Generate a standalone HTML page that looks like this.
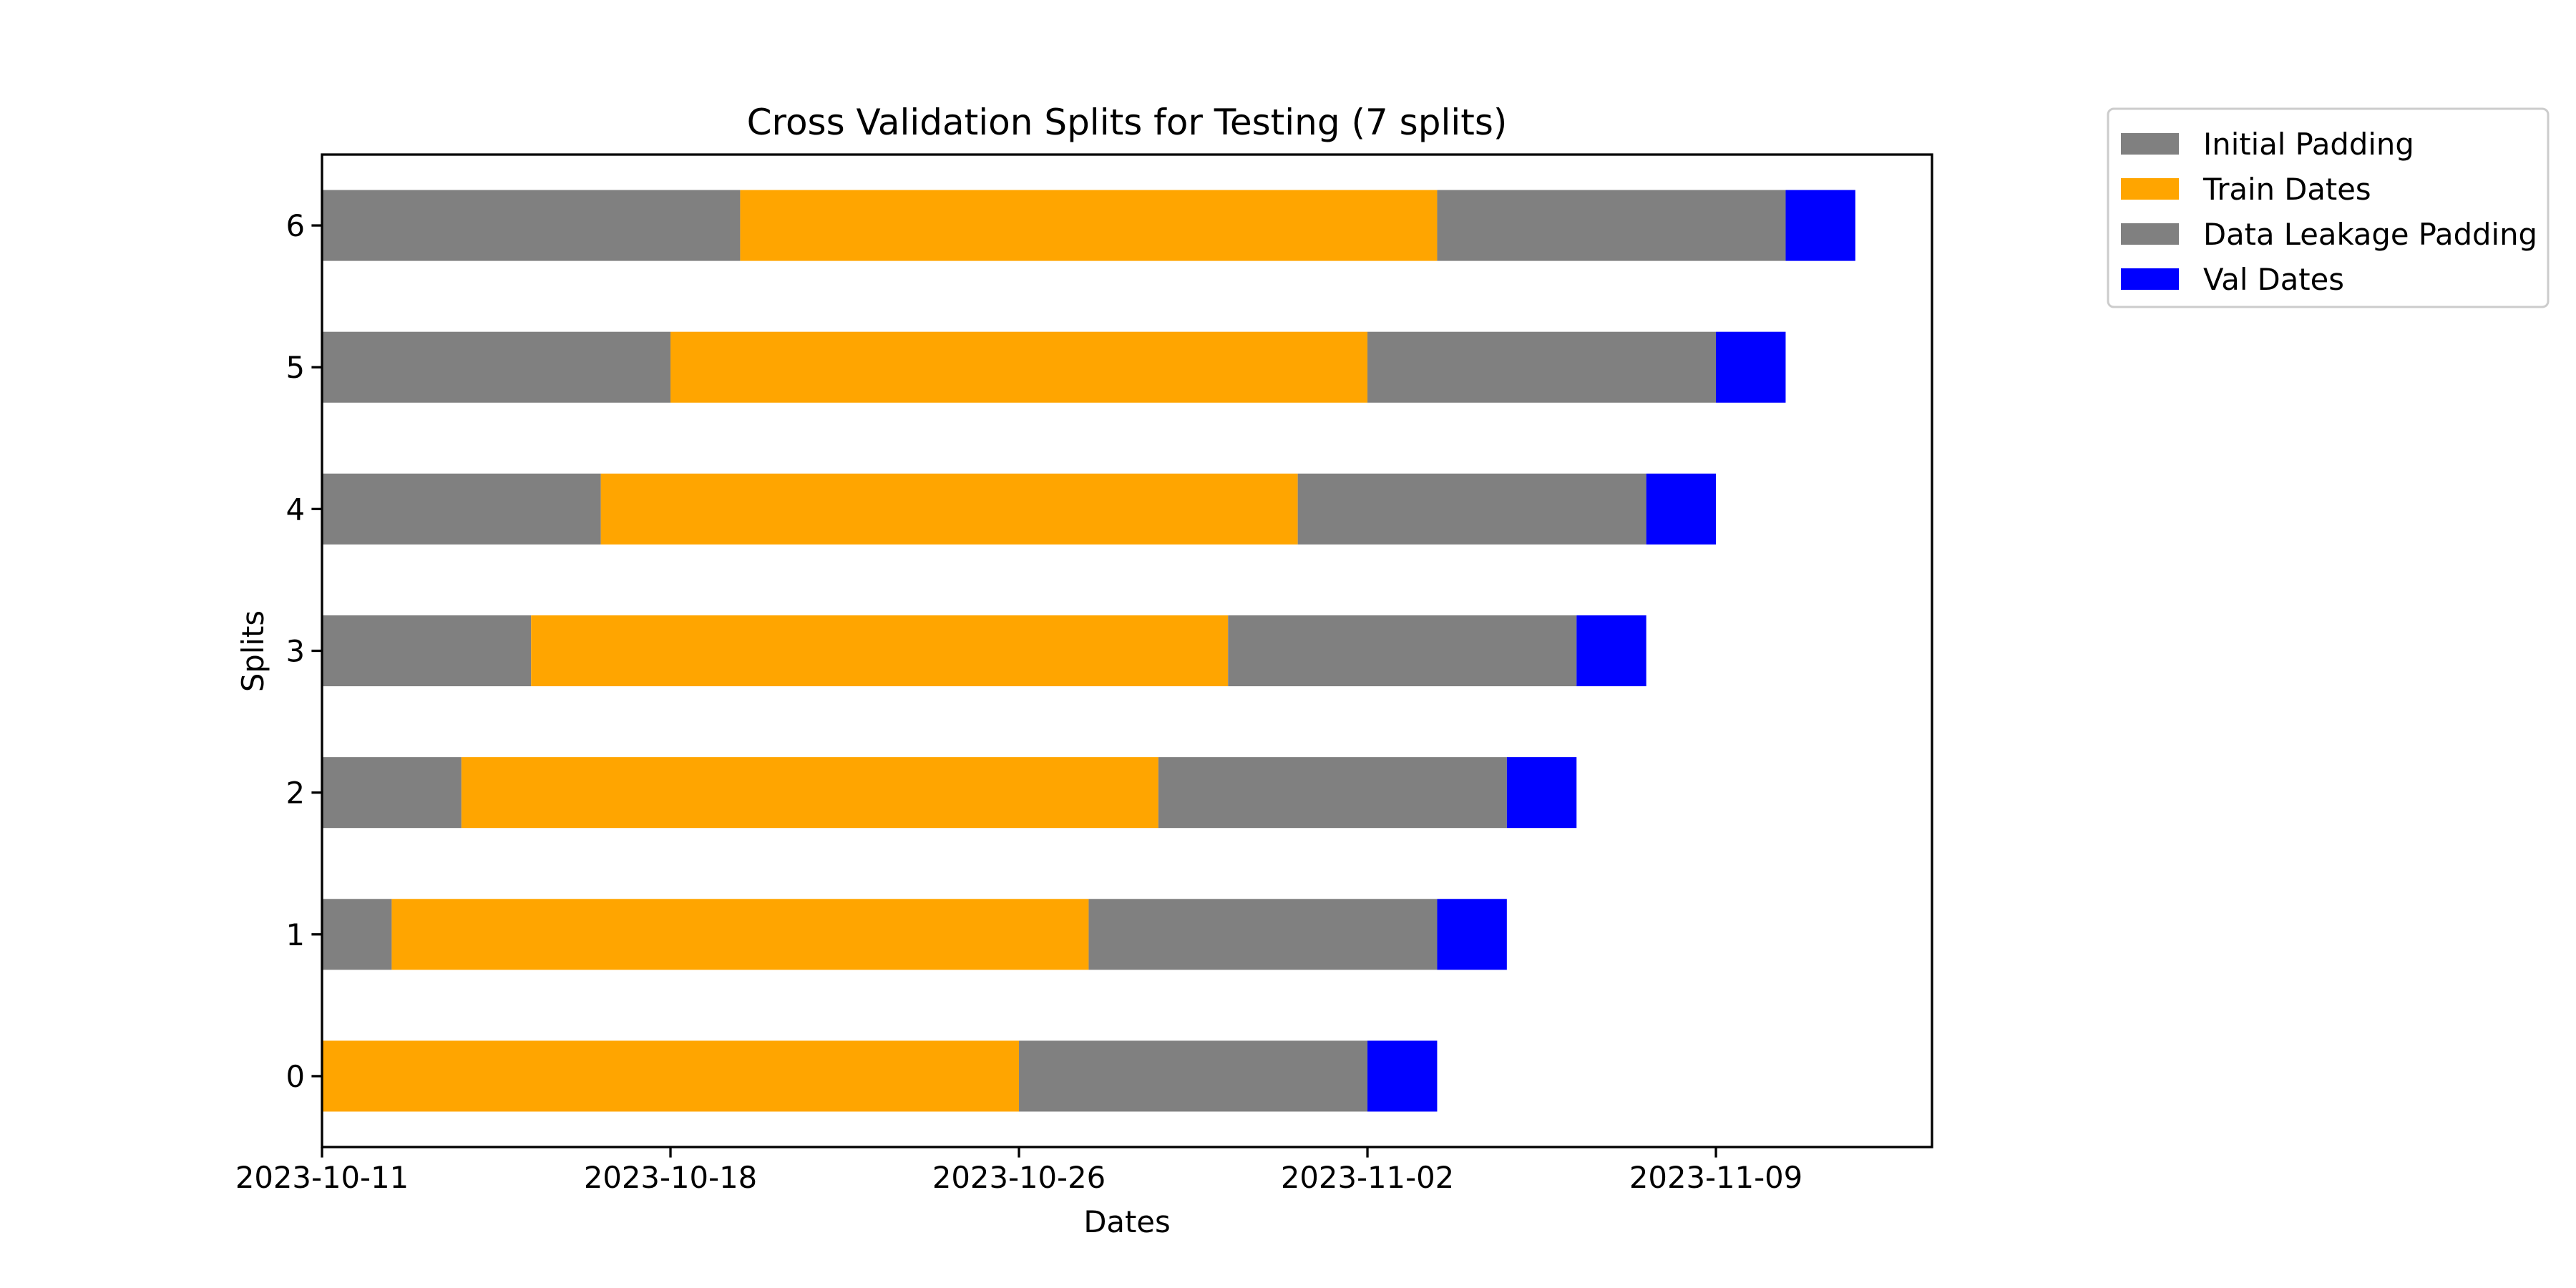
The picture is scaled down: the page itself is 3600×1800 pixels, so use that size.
<!DOCTYPE html>
<html><head><meta charset="utf-8"><style>
html,body{margin:0;padding:0;background:#fff;}
svg{display:block;font-family:"DejaVu Sans","Liberation Sans",sans-serif;}
</style></head><body>
<svg id="chart" width="3600" height="1800" viewBox="0 0 3600 1800">
<rect width="3600" height="1800" fill="#fff"/>
<g id="bars"></g>
<g id="axes"></g>
<text x="1575" y="188" font-size="50" text-anchor="middle">Cross Validation Splits for Testing (7 splits)</text>
<text x="1575" y="1722" font-size="41.7" text-anchor="middle">Dates</text>
<text x="368" y="910" font-size="41.7" text-anchor="middle" transform="rotate(-90 368 910)">Splits</text>
<g>
<rect x="2946" y="152" width="615" height="277" rx="8" fill="#fff" stroke="#ccc" stroke-width="3"/>
<g><rect x="2964" y="186" width="81" height="30" fill="#808080"/><text x="3079" y="216" font-size="41.7">Initial Padding</text></g>
<g><rect x="2964" y="249" width="81" height="30" fill="#FFA500"/><text x="3079" y="279" font-size="41.7">Train Dates</text></g>
<g><rect x="2964" y="312" width="81" height="30" fill="#808080"/><text x="3079" y="342" font-size="41.7">Data Leakage Padding</text></g>
<g><rect x="2964" y="375" width="81" height="30" fill="#0000FF"/><text x="3079" y="405" font-size="41.7">Val Dates</text></g>
</g>
</svg>
<script>
const splits = [0,1,2,3,4,5,6];
const initialPadding = [0,1,2,3,4,5,6];
const trainDays = [10,10,10,10,10,10,10];
const leakagePadding = [5,5,5,5,5,5,5];
const valDays = [1,1,1,1,1,1,1];
const xTickValues = [0,5,10,15,20];
const xTickLabels = ["2023-10-11","2023-10-18","2023-10-26","2023-11-02","2023-11-09"];

const L=450,R=2700,T=216,B=1603;
const xMin=0,xMax=23.1,yMin=-0.5,yMax=6.5;
const X=v=>L+(v-xMin)/(xMax-xMin)*(R-L);
const Y=v=>B-(v-yMin)/(yMax-yMin)*(B-T);
const NS="http://www.w3.org/2000/svg";
const bars=document.getElementById('bars'), axes=document.getElementById('axes');
function mk(tag,attrs,parent){const e=document.createElementNS(NS,tag);for(const k in attrs)e.setAttribute(k,attrs[k]);parent.appendChild(e);return e;}
const segs=[["initial-padding",initialPadding,"#808080"],["train",trainDays,"#FFA500"],["leakage-padding",leakagePadding,"#808080"],["val",valDays,"#0000FF"]];
splits.forEach((s,i)=>{
  let start=0;
  segs.forEach(([nm,arr,col])=>{
    const w=arr[i];
    if(w>0){
      const r=mk('rect',{x:X(start),y:Y(s+0.25),width:X(start+w)-X(start),height:Y(s-0.25)-Y(s+0.25),fill:col},bars);
      
      
    }
    start+=w;
  });
});
const frame=mk('rect',{x:L,y:T,width:R-L,height:B-T,fill:"none",stroke:"#000","stroke-width":3.3},axes);


xTickValues.forEach((v,i)=>{
  const g=mk('g',{},axes);
  
  
  mk('line',{x1:X(v),x2:X(v),y1:B,y2:B+14.6,stroke:"#000","stroke-width":3.3},g);
  const t=mk('text',{x:X(v),y:B+57,"font-size":41.7,"text-anchor":"middle"},g);
  t.textContent=xTickLabels[i];
});
splits.forEach(s=>{
  const g=mk('g',{},axes);
  
  
  mk('line',{x1:L,x2:L-14.6,y1:Y(s),y2:Y(s),stroke:"#000","stroke-width":3.3},g);
  const t=mk('text',{x:L-24,y:Y(s)+15,"font-size":41.7,"text-anchor":"end"},g);
  t.textContent=String(s);
});
</script>
</body></html>
